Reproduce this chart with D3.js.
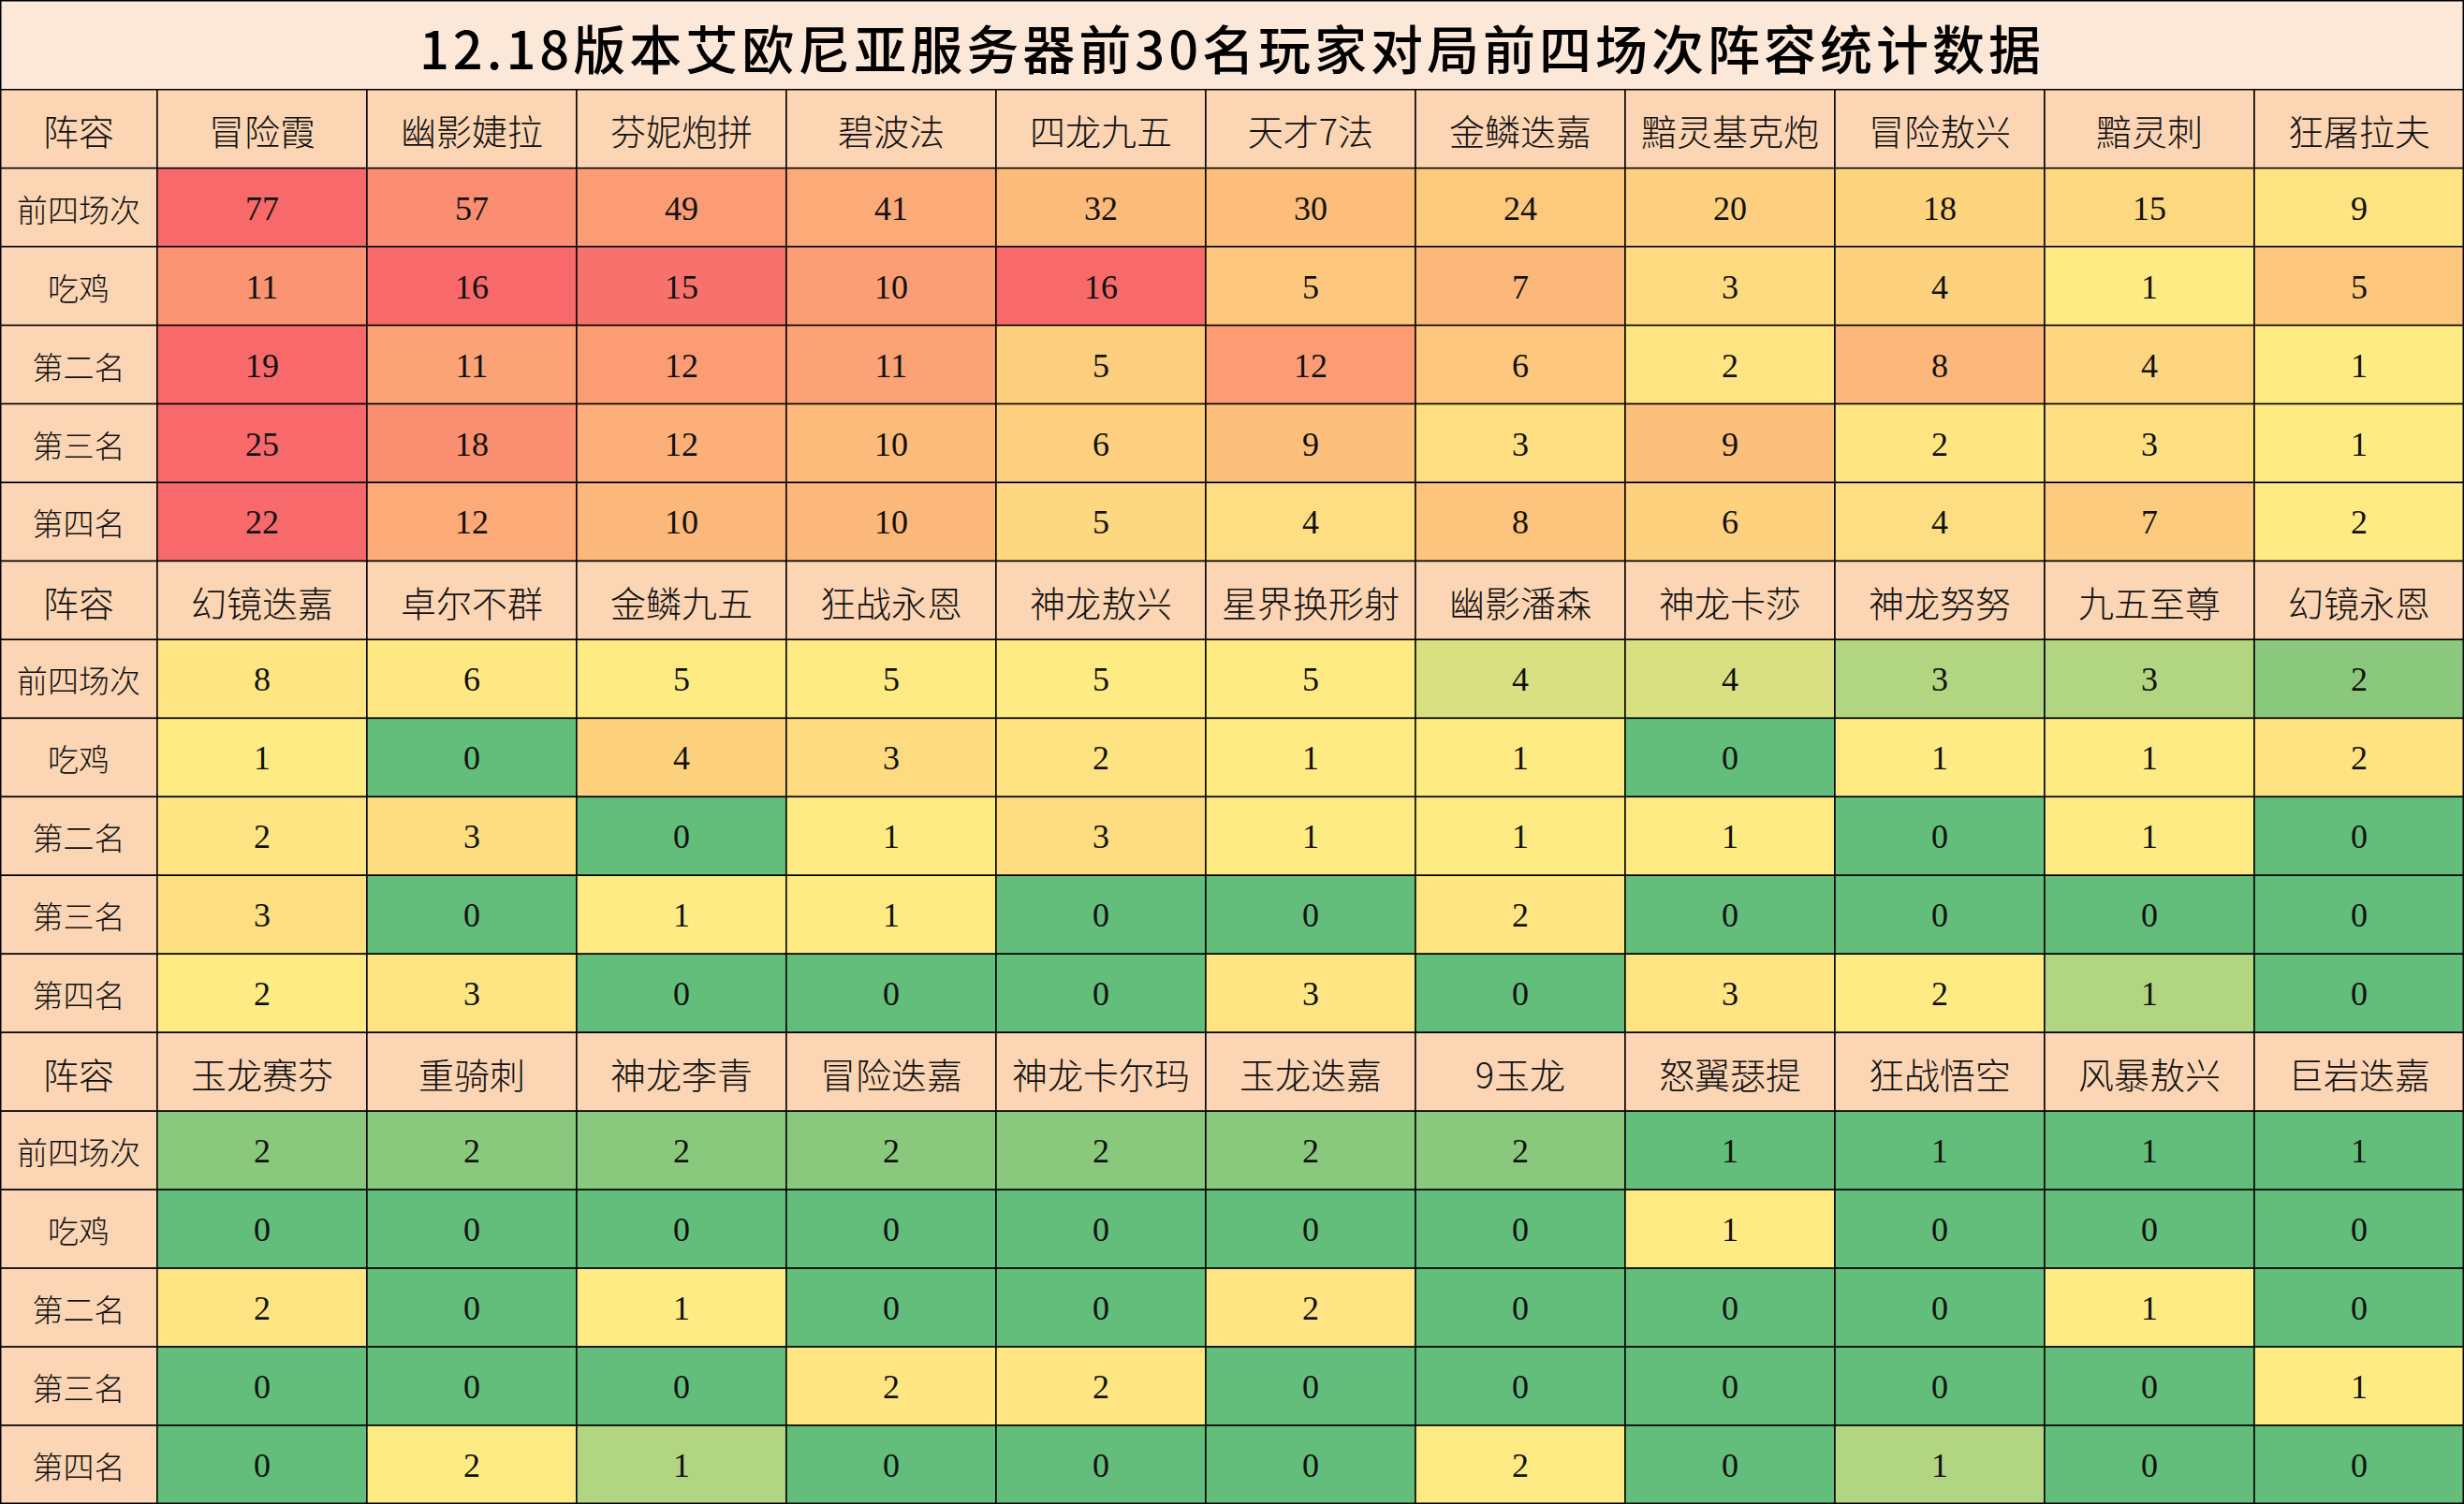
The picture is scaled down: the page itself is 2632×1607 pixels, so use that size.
<!DOCTYPE html>
<html><head><meta charset="utf-8">
<script src="https://cdn.jsdelivr.net/npm/d3@7"></script>
<style>body{margin:0;background:#fff}</style></head>
<body><svg id="c" width="2632" height="1607"></svg>
<script>
const title = "12.18版本艾欧尼亚服务器前30名玩家对局前四场次阵容统计数据";
const rowLabels = ["前四场次","吃鸡","第二名","第三名","第四名"];
const comps = ["冒险霞","幽影婕拉","芬妮炮拼","碧波法","四龙九五","天才7法","金鳞迭嘉","黯灵基克炮","冒险敖兴","黯灵刺","狂屠拉夫",
"幻镜迭嘉","卓尔不群","金鳞九五","狂战永恩","神龙敖兴","星界换形射","幽影潘森","神龙卡莎","神龙努努","九五至尊","幻镜永恩",
"玉龙赛芬","重骑刺","神龙李青","冒险迭嘉","神龙卡尔玛","玉龙迭嘉","9玉龙","怒翼瑟提","狂战悟空","风暴敖兴","巨岩迭嘉"];
const top4 = [77,57,49,41,32,30,24,20,18,15,9, 8,6,5,5,5,5,4,4,3,3,2, 2,2,2,2,2,2,2,1,1,1,1];
const first = [11,16,15,10,16,5,7,3,4,1,5, 1,0,4,3,2,1,1,0,1,1,2, 0,0,0,0,0,0,0,1,0,0,0];
const second = [19,11,12,11,5,12,6,2,8,4,1, 2,3,0,1,3,1,1,1,0,1,0, 2,0,1,0,0,2,0,0,0,1,0];
const third = [25,18,12,10,6,9,3,9,2,3,1, 3,0,1,1,0,0,2,0,0,0,0, 0,0,0,2,2,0,0,0,0,0,1];
const fourth = [22,12,10,10,5,4,8,6,4,7,2, 2,3,0,0,0,3,0,3,2,1,0, 0,2,1,0,0,0,2,0,1,0,0];
const series = [top4, first, second, third, fourth];
const W = 2632, H = 1607, titleH = 95.7, firstW = 167.9, nCols = 11, nBlocks = 3;
const rowH = (H - titleH) / 18, colW = (W - firstW) / nCols;
const svg = d3.select("#c");
const x = i => i === 0 ? 0 : firstW + (i - 1) * colW;
const cw = i => i === 0 ? firstW : colW;
const y = d3.scaleLinear().domain([0, 18]).range([titleH, H]);
const cjk = "'Noto Sans CJK SC', sans-serif";
const serif = "'Liberation Serif', 'DejaVu Serif', serif";
svg.append("rect").attr("x",0).attr("y",0).attr("width",W).attr("height",titleH).attr("fill","#FCE8D8");
svg.append("text").attr("x",W/2).attr("y",titleH/2+2).attr("text-anchor","middle").attr("dominant-baseline","central")
  .attr("font-family",cjk).attr("font-weight",500).attr("font-size",56).attr("letter-spacing",4).text(title);
const scales = series.map(s => {
  const ext = d3.extent(s), mid = d3.quantile(s.slice().sort(d3.ascending), 0.5);
  return d3.scaleLinear().domain([ext[0], mid, ext[1]]).range(["#63BE7B","#FFEB84","#F8696B"]).interpolate(d3.interpolateRgb);
});
const header = "#FCD5B4";
function cell(cx, cy, w, h, fill, txt, font, size, wt) {
  svg.append("rect").attr("x",cx).attr("y",cy).attr("width",w).attr("height",h).attr("fill",fill)
    .attr("stroke","#000").attr("stroke-width",1.5);
  svg.append("text").attr("x",cx+w/2).attr("y",cy+h/2+1).attr("text-anchor","middle").attr("dominant-baseline","central")
    .attr("font-family",font).attr("font-size",size).attr("font-weight",wt||400).attr("fill","#111").text(txt);
}
for (let b = 0; b < nBlocks; b++) {
  const r0 = b * 6;
  cell(x(0), y(r0), cw(0), rowH, header, "阵容", cjk, 38, 300);
  for (let c = 0; c < nCols; c++) {
    const k = b * nCols + c;
    cell(x(c+1), y(r0), colW, rowH, header, comps[k], cjk, 38, 300);
  }
  rowLabels.forEach((lab, r) => {
    cell(x(0), y(r0+1+r), cw(0), rowH, header, lab, cjk, 33, 300);
    for (let c = 0; c < nCols; c++) {
      const k = b * nCols + c, v = series[r][k];
      cell(x(c+1), y(r0+1+r), colW, rowH, scales[r](v), v, serif, 36);
    }
  });
}
svg.append("rect").attr("x",0.75).attr("y",0.75).attr("width",W-1.5).attr("height",H-1.5).attr("fill","none").attr("stroke","#000").attr("stroke-width",1.5);
</script></body></html>
